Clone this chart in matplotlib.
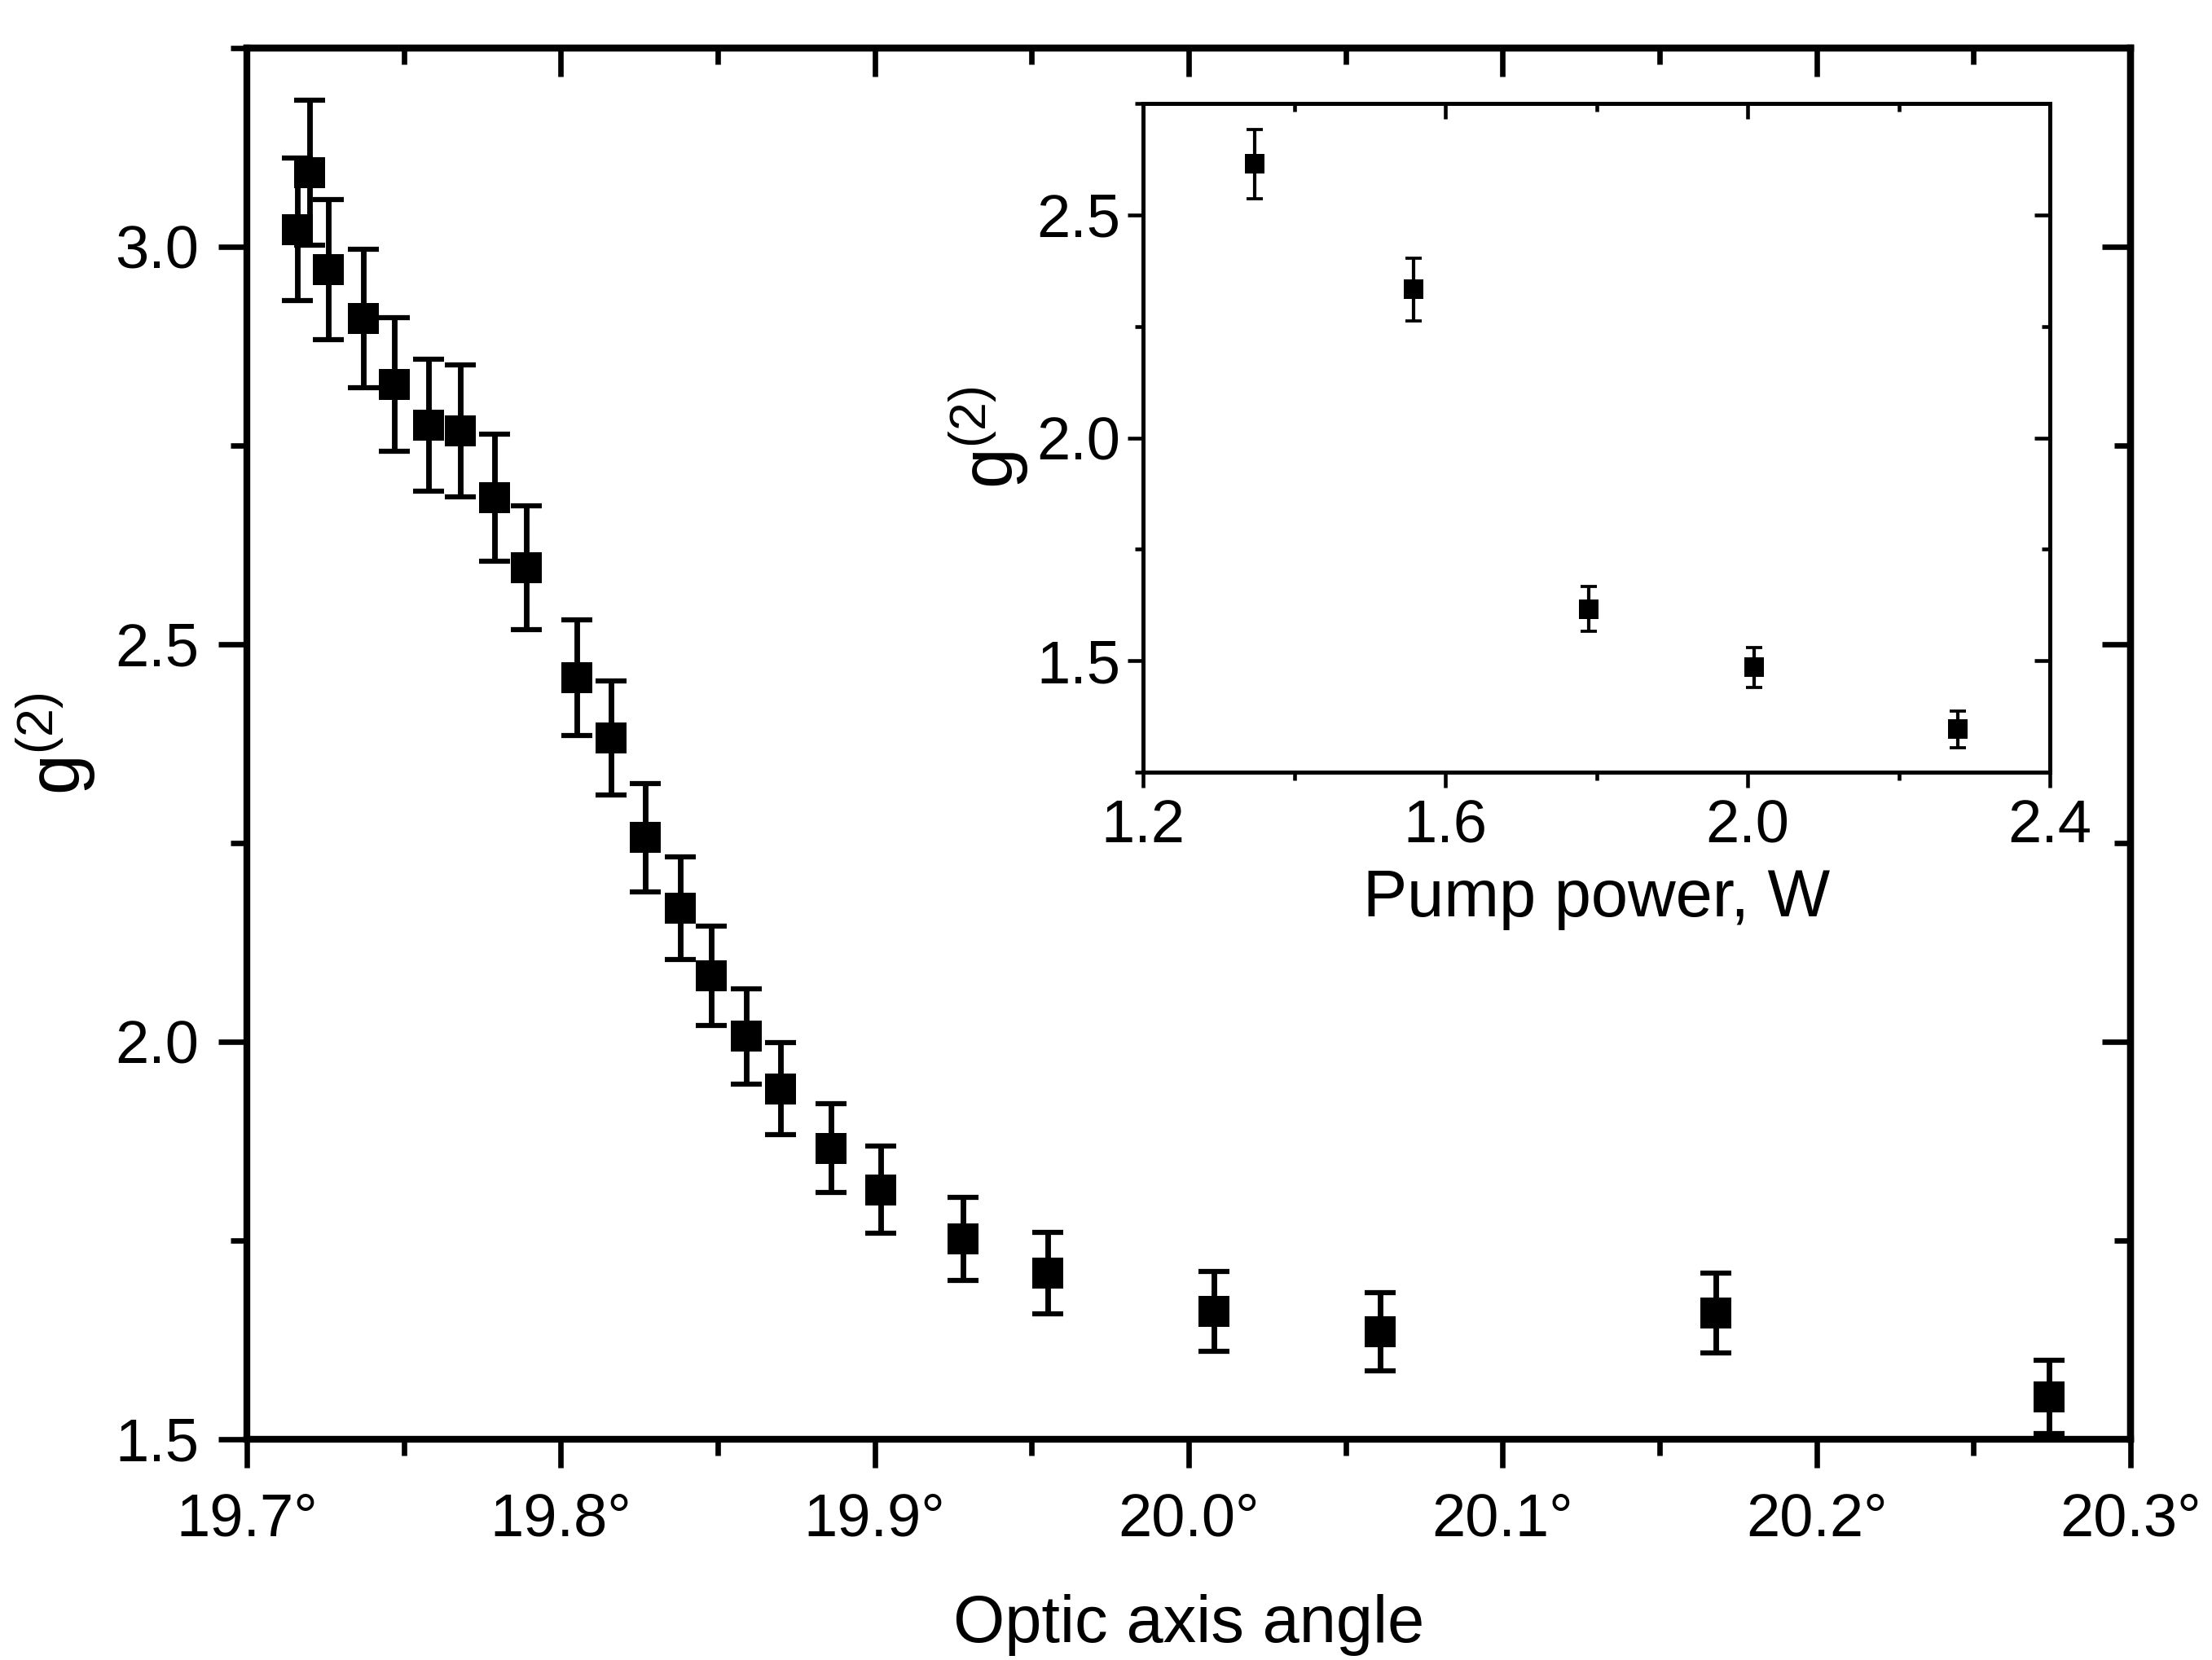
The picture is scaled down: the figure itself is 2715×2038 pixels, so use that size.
import matplotlib
matplotlib.use("Agg")
import matplotlib.pyplot as plt
from matplotlib.ticker import MultipleLocator

plt.rcParams['font.family'] = ['Liberation Sans', 'DejaVu Sans']
plt.rcParams['mathtext.fontset'] = 'custom'
plt.rcParams['mathtext.rm'] = 'Liberation Sans'
plt.rcParams['mathtext.it'] = 'Liberation Sans:italic'
plt.rcParams['mathtext.bf'] = 'Liberation Sans:bold'

# ---- main data: g2 vs optic axis angle ----
angle = [19.716, 19.720, 19.726, 19.737, 19.747, 19.758, 19.768, 19.779,
         19.789, 19.805, 19.816, 19.827, 19.838, 19.848, 19.859, 19.870,
         19.886, 19.902, 19.928, 19.955, 20.008, 20.061, 20.168, 20.274]
g2 = [3.022, 3.093, 2.971, 2.910, 2.827, 2.776, 2.768, 2.684,
      2.596, 2.458, 2.382, 2.257, 2.168, 2.083, 2.007, 1.941,
      1.866, 1.814, 1.752, 1.709, 1.661, 1.635, 1.659, 1.553]
g2_err = [0.090, 0.091, 0.088, 0.087, 0.084, 0.083, 0.083, 0.080,
          0.078, 0.073, 0.072, 0.068, 0.065, 0.062, 0.060, 0.058,
          0.056, 0.055, 0.052, 0.051, 0.050, 0.049, 0.050, 0.046]

xticks = [19.7, 19.8, 19.9, 20.0, 20.1, 20.2, 20.3]
xticklabels = ['19.7°', '19.8°', '19.9°', '20.0°', '20.1°', '20.2°', '20.3°']
yticks = [1.5, 2.0, 2.5, 3.0]
yticklabels = ['1.5', '2.0', '2.5', '3.0']

# ---- inset data: g2 vs pump power ----
power = [1.348, 1.558, 1.790, 2.009, 2.278]
g2_p = [2.614, 2.333, 1.616, 1.485, 1.346]
g2_p_err = [0.078, 0.070, 0.050, 0.045, 0.041]

in_xticks = [1.2, 1.6, 2.0, 2.4]
in_xticklabels = ['1.2', '1.6', '2.0', '2.4']
in_yticks = [1.5, 2.0, 2.5]
in_yticklabels = ['1.5', '2.0', '2.5']

W, H = 2715, 2038
fig = plt.figure(figsize=(W / 300, H / 300), dpi=300)


def style_axes(a, xt, xtl, yt, ytl, xminor, yminor, spine_lw, tw,
               maj, mino, lsize, xpad, ypad):
    a.set_xticks(xt)
    a.set_xticklabels(xtl)
    a.set_yticks(yt)
    a.set_yticklabels(ytl)
    a.xaxis.set_minor_locator(MultipleLocator(xminor))
    a.yaxis.set_minor_locator(MultipleLocator(yminor))
    for s in a.spines.values():
        s.set_linewidth(spine_lw)
    a.tick_params(which='both', direction='out', width=tw, top=False,
                  right=False, colors='black')
    a.tick_params(which='major', length=maj, labelsize=lsize)
    a.tick_params(which='minor', length=mino)
    a.tick_params(axis='x', which='major', pad=xpad)
    a.tick_params(axis='y', which='major', pad=ypad)
    sx = a.secondary_xaxis('top')
    sx.set_xticks(xt)
    sx.xaxis.set_minor_locator(MultipleLocator(xminor))
    sx.tick_params(which='both', direction='in', width=tw, labeltop=False)
    sx.tick_params(which='major', length=maj)
    sx.tick_params(which='minor', length=mino)
    sx.spines['top'].set_linewidth(spine_lw)
    sy = a.secondary_yaxis('right')
    sy.set_yticks(yt)
    sy.yaxis.set_minor_locator(MultipleLocator(yminor))
    sy.tick_params(which='both', direction='in', width=tw, labelright=False)
    sy.tick_params(which='major', length=maj)
    sy.tick_params(which='minor', length=mino)
    sy.spines['right'].set_linewidth(spine_lw)


# ---- main axes ----
ax = fig.add_axes([303 / W, 1 - 1767 / H, 2312 / W, 1708 / H])
ax.errorbar(angle, g2, yerr=g2_err, fmt='none', ecolor='black',
            elinewidth=1.65, capsize=4.6, capthick=1.5, clip_on=False,
            zorder=3)
ax.plot(angle, g2, linestyle='none', marker='s', color='black',
        markersize=9, markeredgewidth=0, zorder=4)
ax.set_xlim(19.7, 20.3)
ax.set_ylim(1.5, 3.25)
style_axes(ax, xticks, xticklabels, yticks, yticklabels, 0.05, 0.25,
           2.0, 1.6, 8.5, 4.8, 17.8, 7.0, 5.6)
ax.set_xlabel('Optic axis angle', fontsize=19.5)
ax.xaxis.set_label_coords(0.5, -0.111)
ax.set_ylabel(r'g$^{\mathregular{(2)}}$', fontsize=21.5)
ax.yaxis.set_label_coords(-0.0792, 0.5)

# ---- inset axes ----
axin = fig.add_axes([1403 / W, 1 - 948 / H, 1113 / W, 821 / H])
axin.errorbar(power, g2_p, yerr=g2_p_err, fmt='none', ecolor='black',
              elinewidth=1.0, capsize=2.5, capthick=0.9, zorder=3)
axin.plot(power, g2_p, linestyle='none', marker='s', color='black',
          markersize=5.8, markeredgewidth=0, zorder=4)
axin.set_xlim(1.2, 2.4)
axin.set_ylim(1.25, 2.75)
style_axes(axin, in_xticks, in_xticklabels, in_yticks, in_yticklabels,
           0.2, 0.25, 1.2, 1.1, 4.5, 2.4, 17.8, 3.2, 2.2)
axin.set_xlabel('Pump power, W', fontsize=19.5)
axin.xaxis.set_label_coords(0.5, -0.1437)
axin.set_ylabel(r'g$^{\mathregular{(2)}}$', fontsize=21.5)
axin.yaxis.set_label_coords(-0.124, 0.5)

fig.savefig('out.png', dpi=300)
